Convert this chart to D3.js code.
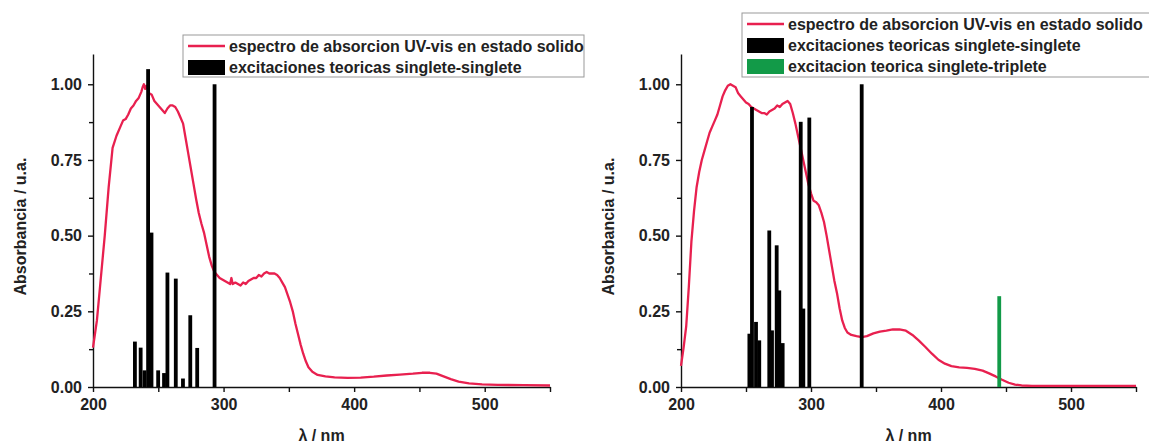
<!DOCTYPE html>
<meta charset="utf-8">
<style>
body { margin: 0; background: #fff; }
text { font-family: "Liberation Sans", Arial, sans-serif; font-weight: bold; fill: #222; }
.axis path, .axis line { stroke: #111; stroke-width: 1.4px; }
.axis text { font-size: 16px; }
.spectrum { fill: none; stroke: #e8204f; stroke-width: 2.3px; stroke-linejoin: round; }
.legend-box { fill: #fff; stroke: #999; stroke-width: 1px; }
</style>
<svg width="1149" height="443"></svg>
<script src="https://cdn.jsdelivr.net/npm/d3@7"></script>
<script>

// ---- data ----

// left panel: solid state UV-vis spectrum [nm, abs]
var leftSpectrum = [
  [200,0.13],[203,0.22],[206,0.36],[209,0.50],[212,0.66],[215,0.79],[218,0.83],[221,0.86],
  [223,0.88],[225,0.885],[227,0.90],[229,0.92],[231,0.93],[233,0.945],[235,0.955],[237,0.975],
  [238,0.99],[239,1.00],[240,0.985],[241,0.995],[243,0.97],[245,0.965],[247,0.945],[249,0.935],
  [251,0.925],[253,0.915],[255,0.905],[257,0.92],[259,0.93],[261,0.93],[263,0.925],[265,0.91],
  [267,0.89],[269,0.87],[271,0.82],[273,0.77],[275,0.72],[277,0.67],[279,0.62],[281,0.575],
  [283,0.54],[285,0.51],[287,0.47],[289,0.43],[291,0.40],[293,0.38],[295,0.37],[297,0.36],
  [299,0.355],[301,0.35],[303,0.345],[305,0.34],[306,0.36],[307,0.34],[309,0.345],[311,0.34],
  [313,0.335],[315,0.345],[317,0.34],[319,0.35],[321,0.355],[323,0.36],[325,0.36],[327,0.37],
  [329,0.365],[331,0.375],[333,0.38],[335,0.375],[337,0.375],[339,0.375],[341,0.37],[343,0.36],
  [345,0.345],[347,0.33],[349,0.305],[351,0.28],[353,0.25],[355,0.21],[357,0.175],[359,0.14],
  [361,0.11],[363,0.085],[365,0.065],[368,0.05],[372,0.04],[378,0.035],[385,0.032],[395,0.03],
  [405,0.031],[415,0.034],[425,0.038],[435,0.041],[445,0.044],[452,0.047],[458,0.047],[463,0.044],
  [468,0.036],[474,0.026],[480,0.018],[488,0.012],[498,0.009],[510,0.007],[530,0.006],[550,0.005]
];

// left panel: singlet-singlet excitations [nm, strength]
var leftSinglets = [
  [232.1,0.15],[236.5,0.13],[239.5,0.055],[242.2,1.05],[244.8,0.51],[249.9,0.055],[254.4,0.046],
  [257.0,0.378],[263.4,0.358],[268.9,0.028],[274.5,0.237],[279.8,0.129],[293.1,1.00]
];

// right panel: solid state UV-vis spectrum [nm, abs]
var rightSpectrum = [
  [200,0.07],[202,0.13],[204,0.20],[206,0.33],[208,0.48],[210,0.58],[212,0.66],[214,0.71],
  [216,0.75],[218,0.78],[220,0.81],[222,0.84],[224,0.86],[226,0.88],[228,0.90],[230,0.93],
  [232,0.96],[234,0.98],[236,0.995],[238,1.00],[240,0.995],[242,0.99],[244,0.97],[246,0.96],
  [248,0.95],[250,0.94],[252,0.935],[254,0.925],[256,0.92],[258,0.915],[260,0.91],[262,0.905],
  [264,0.905],[266,0.90],[268,0.91],[270,0.915],[272,0.92],[274,0.93],[276,0.925],[278,0.935],
  [280,0.94],[282,0.945],[284,0.935],[286,0.905],[288,0.87],[290,0.83],[292,0.79],[294,0.75],
  [296,0.71],[298,0.67],[300,0.64],[302,0.615],[304,0.61],[306,0.60],[308,0.575],[310,0.545],
  [312,0.50],[314,0.45],[316,0.40],[318,0.35],[320,0.31],[322,0.26],[324,0.22],[326,0.195],
  [328,0.18],[331,0.172],[335,0.168],[339,0.165],[343,0.168],[348,0.177],[353,0.183],[358,0.186],
  [363,0.19],[368,0.19],[373,0.186],[378,0.172],[383,0.153],[388,0.132],[393,0.11],[398,0.09],
  [403,0.077],[408,0.069],[414,0.065],[420,0.063],[426,0.06],[432,0.054],[437,0.045],[442,0.035],
  [447,0.024],[452,0.014],[457,0.008],[462,0.005],[470,0.004],[490,0.004],[520,0.004],[550,0.004]
];

// right panel: singlet-singlet excitations [nm, strength]
var rightSinglets = [
  [252.6,0.176],[254.6,0.925],[257.7,0.215],[260.2,0.154],[267.9,0.517],[270.0,0.187],
  [273.6,0.468],[275.6,0.319],[278.2,0.145],[292.1,0.876],[294.1,0.259],[298.7,0.89],[339.0,1.00]
];

// right panel: singlet-triplet excitation [nm, strength]
var rightTriplets = [[444.8,0.30]];

var xMajor = [200, 300, 400, 500],
    xMinor = [250, 350, 450, 550],
    yMajor = [0, 0.25, 0.5, 0.75, 1.0],
    yMinor = [0.125, 0.375, 0.625, 0.875];

var legendLabels = [
  "espectro de absorcion UV-vis en estado solido",
  "excitaciones teoricas singlete-singlete",
  "excitacion teorica singlete-triplete"
];

var xTitle = "λ / nm",
    yTitle = "Absorbancia / u.a.";

// ---- drawing ----

var svg = d3.select("svg");
var red = "#e8204f", green = "#129a48";

function panel(left, right, spectrum, singlets, triplets) {
  var x = d3.scaleLinear().domain([200, 550]).range([left, right]);
  var y = d3.scaleLinear().domain([0, 1.1]).range([387, 54]);
  var g = svg.append("g");

  // minor ticks
  g.append("g").attr("class", "axis").attr("transform", "translate(0,387)")
    .call(d3.axisBottom(x).tickValues(xMinor).tickSize(5).tickSizeOuter(0).tickFormat(""))
    .select(".domain").remove();
  g.append("g").attr("class", "axis").attr("transform", "translate(" + left + ",0)")
    .call(d3.axisLeft(y).tickValues(yMinor).tickSize(4).tickSizeOuter(0).tickFormat(""))
    .select(".domain").remove();

  // major axes
  g.append("g").attr("class", "axis").attr("transform", "translate(0,387)")
    .call(d3.axisBottom(x).tickValues(xMajor).tickSize(5).tickSizeOuter(0).tickPadding(7).tickFormat(d3.format("d")));
  g.append("g").attr("class", "axis").attr("transform", "translate(" + left + ",0)")
    .call(d3.axisLeft(y).tickValues(yMajor).tickSize(5).tickSizeOuter(0).tickPadding(6).tickFormat(d3.format(".2f")));

  var line = d3.line()
    .x(function(d) { return x(d[0]); })
    .y(function(d) { return y(d[1]); });

  g.append("path").datum(spectrum).attr("class", "spectrum").attr("d", line);

  var bw = 3.8;
  g.selectAll("rect.singlet")
    .data(singlets)
    .enter().append("rect")
      .attr("class", "singlet")
      .attr("x", function(d) { return x(d[0]) - bw / 2; })
      .attr("y", function(d) { return y(d[1]); })
      .attr("width", bw)
      .attr("height", function(d) { return y(0) - y(d[1]); })
      .attr("fill", "#000");

  g.selectAll("rect.triplet")
    .data(triplets)
    .enter().append("rect")
      .attr("class", "triplet")
      .attr("x", function(d) { return x(d[0]) - bw / 2; })
      .attr("y", function(d) { return y(d[1]); })
      .attr("width", bw)
      .attr("height", function(d) { return y(0) - y(d[1]); })
      .attr("fill", green);

  // axis titles
  g.append("text")
    .attr("x", (left + right) / 2)
    .attr("y", 441)
    .attr("text-anchor", "middle")
    .style("font-size", "16px")
    .text(xTitle);
  g.append("text")
    .attr("transform", "translate(" + (left - 67) + "," + y(0.53) + ")rotate(-90)")
    .attr("text-anchor", "middle")
    .style("font-size", "16px")
    .text(yTitle);
}

panel(93, 550, leftSpectrum, leftSinglets, []);
panel(681, 1136, rightSpectrum, rightSinglets, rightTriplets);

function legend(bx, by, bw, bh, rows) {
  var g = svg.append("g");
  g.append("rect").attr("class", "legend-box")
    .attr("x", bx).attr("y", by).attr("width", bw).attr("height", bh);
  rows.forEach(function(r, i) {
    var cy = by + 11 + i * 21;
    if (r.type == "line") {
      g.append("line")
        .attr("x1", bx + 5).attr("x2", bx + 42)
        .attr("y1", cy).attr("y2", cy)
        .attr("stroke", r.color).attr("stroke-width", 2.5);
    } else {
      g.append("rect")
        .attr("x", bx + 5).attr("y", cy - 7)
        .attr("width", 37).attr("height", 15)
        .attr("fill", r.color);
    }
    g.append("text")
      .attr("x", bx + 46)
      .attr("y", cy + 5.5)
      .style("font-size", "16px")
      .text(r.label);
  });
}

legend(183, 35, 401, 42, [
  {type: "line", color: red, label: legendLabels[0]},
  {type: "rect", color: "#000", label: legendLabels[1]}
]);
legend(742, 13, 420, 64, [
  {type: "line", color: red, label: legendLabels[0]},
  {type: "rect", color: "#000", label: legendLabels[1]},
  {type: "rect", color: green, label: legendLabels[2]}
]);

</script>
